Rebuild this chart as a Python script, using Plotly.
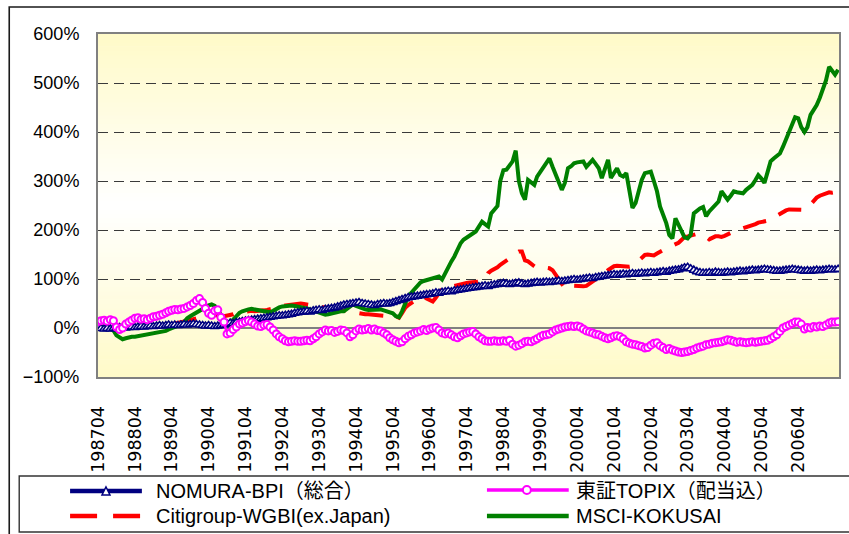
import plotly.graph_objects as go
import pandas as pd

# ---------------- data (monthly cumulative return, %) ----------------
TICK_LABELS = ["198704", "198804", "198904", "199004", "199104", "199204", "199304",
               "199404", "199504", "199604", "199704", "199804", "199904", "200004",
               "200104", "200204", "200304", "200404", "200504", "200604"]
Y_TICKS = [-100, 0, 100, 200, 300, 400, 500, 600]
Y_TICK_LABELS = ["\u2212100%", "0%", "100%", "200%", "300%", "400%", "500%", "600%"]
SERIES_NAMES = ["NOMURA-BPI（総合）", "東証TOPIX（配当込）",
                "Citigroup-WGBI(ex.Japan)", "MSCI-KOKUSAI"]

NOMURA_BPI = [
    0, -1, -2, -1, -2, -1, 0, 1, 1, 0, 1, 2,
    1, 2, 3, 2, 3, 4, 3, 4, 5, 4, 5, 6,
    5, 6, 5, 6, 7, 6, 7, 8, 7, 6, 5, 4,
    5, 4, 3, 4, 5, 6, 8, 10, 9, 11, 12, 13,
    14, 15, 16, 17, 18, 19, 20, 21, 22, 23, 24, 25,
    25, 26, 27, 28, 30, 31, 32, 33, 34, 33, 35, 36,
    37, 36, 38, 39, 40, 41, 43, 45, 47, 48, 49, 50,
    51, 52, 50, 49, 48, 47, 46, 48, 49, 50, 49, 50,
    52, 54, 56, 58, 60, 62, 63, 64, 65, 66, 67, 68,
    69, 70, 72, 71, 73, 74, 75, 74, 76, 77, 78, 79,
    80, 81, 82, 83, 84, 85, 86, 85, 87, 88, 89, 90,
    91, 90, 89, 90, 91, 92, 90, 89, 90, 91, 92, 93,
    92, 93, 94, 93, 94, 95, 96, 95, 96, 97, 98, 99,
    98, 99, 100, 101, 102, 101, 103, 104, 105, 106, 107, 108,
    109, 108, 109, 110, 109, 110, 111, 110, 111, 112, 111, 112,
    113, 112, 113, 114, 115, 114, 116, 117, 118, 119, 121, 123,
    124, 121, 118, 115, 113, 112, 112, 113, 112, 114, 113, 112,
    113, 114, 113, 114, 115, 116, 115, 116, 117, 118, 117, 118,
    119, 120, 119, 118, 117, 116, 116, 117, 118, 119, 120, 119,
    118, 117, 116, 117, 116, 117, 118, 117, 118, 119, 120, 119,
    119, 120,
]

TOPIX = [
    13, 15, 16, 14, 17, 15, 2, -3, 0, 8, 12, 16,
    20, 21, 18, 19, 17, 20, 23, 24, 26, 28, 31, 34,
    36, 38, 37, 39, 40, 43, 46, 50, 56, 60, 52, 40,
    30, 26, 35, 37, 22, 12, -12, -10, -3, 2, 8, 10,
    13, 15, 12, 8, 4, 3, 6, 7, 2, -4, -12, -18,
    -22, -26, -28, -27, -26, -27, -27, -26, -25, -26, -22, -18,
    -12, -8, -4, -6, -5, -9, -7, -4, -5, -10, -18, -14,
    -6, -2, -4, -3, -1, -4, -2, -5, -6, -10, -14, -20,
    -24, -27, -30, -28, -22, -17, -14, -10, -8, -6, -3, -5,
    -2, 0, 1, -4, -10, -12, -10, -14, -18, -20, -16, -12,
    -10, -8, -7, -12, -18, -22, -26, -27, -27, -26, -27, -27,
    -26, -27, -25, -33, -37, -35, -32, -28, -27, -28, -25, -22,
    -18, -15, -14, -12, -8, -4, -2, 0, 2, 3, 4, 3,
    4, 2, -2, -6, -8, -10, -13, -14, -17, -20, -22, -20,
    -17, -16, -18, -22, -28, -31, -33, -34, -36, -38, -41, -40,
    -35, -31, -30, -36, -40, -44, -42, -45, -47, -49, -50, -49,
    -48, -46, -44, -41, -39, -37, -34, -33, -31, -30, -29, -28,
    -26, -24, -25, -27, -29, -28, -29, -30, -29, -28, -29, -28,
    -27, -26, -25, -22, -18, -14, -7, 0, 3, 6, 9, 12,
    12, 8, -2, 1, 0, 3, 2, 4, 3, 6, 10, 12,
    12, 13,
]

CITI_WGBI = [
    0, 1, 2, 1, -1, -3, -6, -5, -3, -2, -1, 0,
    0, 1, 2, 2, 3, 4, 4, 5, 5, 6, 7, 8,
    8, 9, 10, 11, 12, 14, 16, 18, 20, 21, 22, 24,
    26, 27, 27, 26, 25, 24, 25, 25, 28, 31, 32, 33,
    33, 34, 35, 34, 34, 35, 36, 37, 38, 39, 40, 42,
    44, 46, 47, 48, 50, 51, 50, 49, 48, 47, 46, 44,
    43, 42, 41, 40, 39, 38, 37, 36, 34, 33, 32, 31,
    30, 29, 29, 28, 28, 27, 26, 25, 24, 25, 26, 27,
    27, 24, 21, 30, 41, 47, 52, 55, 58, 62, 65, 60,
    56, 54, 62, 72, 80, 85, 87, 88, 86, 88, 90, 92,
    92, 93, 94, 95, 94, 95, 100, 112, 117, 120, 124, 129,
    133, 138, 142, 146, 152, 156, 156, 138, 136, 130, 126, 122,
    121, 122, 123, 122, 118, 110, 100, 90, 82, 78, 84, 86,
    85, 86, 85, 86, 90, 95, 100, 104, 108, 112, 118, 122,
    126, 127, 126, 125, 126, 125, 126, 132, 139, 145, 149, 150,
    149, 148, 152, 156, 160, 163, 166, 168, 170, 174, 180, 186,
    187, 189, 190, 192, 190, 190, 186, 181, 184, 187, 187, 186,
    188, 190, 194, 197, 199, 201, 203, 204, 207, 210, 212, 215,
    216, 217, 219, 222, 226, 228, 232, 238, 240, 242, 242, 241,
    240, 241, 241, 245, 252, 262, 266, 270, 272, 275, 277, 276,
    278, 278,
]

MSCI_KOKUSAI = [
    0, 2, 4, 3, 0, -5, -15, -20, -23, -21, -19, -18,
    -18, -17, -15, -14, -13, -12, -11, -11, -10, -8, -6, -3,
    -1, 2, 4, 7, 12, 20, 24, 28, 31, 36, 40, 43,
    46, 48, 45, 36, 27, 18, 10, 13, 17, 24, 31, 34,
    37, 38, 39, 38, 38, 37, 35, 33, 32, 35, 39, 42,
    44, 45, 46, 46, 45, 44, 44, 42, 40, 38, 36, 34,
    31, 29, 27, 28, 30, 31, 32, 34, 34, 38, 44, 48,
    45, 42, 40, 38, 37, 37, 38, 39, 38, 36, 34, 34,
    30, 24, 22, 34, 50, 65, 72, 80, 88, 93, 96, 98,
    99, 102, 104, 105, 99, 112, 126, 136, 146, 160, 173, 180,
    184, 187, 192, 197, 207, 217, 212, 207, 234, 242, 249, 300,
    322, 323, 331, 340, 362, 300, 275, 262, 302, 296, 292, 309,
    318, 328, 336, 346, 329, 312, 296, 282, 296, 326, 330, 336,
    338, 339, 340, 329, 336, 343, 335, 326, 306, 325, 343, 306,
    315, 326, 312, 309, 316, 280, 245, 255, 280, 302, 316, 318,
    319, 300, 279, 248, 230, 214, 190, 183, 224, 210, 194, 185,
    183, 190, 234, 240, 244, 247, 228, 238, 245, 250, 258, 279,
    270, 262, 270, 279, 277, 276, 275, 282, 288, 292, 302, 312,
    305, 296, 318, 340, 346, 350, 356, 370, 385, 401, 420, 430,
    428, 410, 400, 410, 435, 445, 455, 470, 486, 505, 533, 525,
    517, 527,
]

MONTHS = pd.date_range("1987-04-01", periods=len(NOMURA_BPI), freq="MS")
TICK_DATES = [pd.Timestamp(f"{t[:4]}-{t[4:]}-01") for t in TICK_LABELS]

# ---------------- styling ----------------
FONT = "Liberation Sans, Noto Sans CJK JP, sans-serif"
NAVY, MAGENTA, RED, GREEN = "#000080", "#FF00FF", "#FF0000", "#008000"
RED_DASH = "24px,14px"

W, H = 849, 534
ML, MR, MT, MB = 98, 8, 34, 157
PW, PH = W - ML - MR, H - MT - MB


def px(x):
    return (x - ML) / PW


def py(y):
    return (H - MB - y) / PH


fig = go.Figure()

fig.add_trace(go.Scatter(x=MONTHS, y=CITI_WGBI, name=SERIES_NAMES[2], mode="lines",
                         line=dict(color=RED, width=4, dash=RED_DASH)))
fig.add_trace(go.Scatter(x=MONTHS, y=MSCI_KOKUSAI, name=SERIES_NAMES[3], mode="lines",
                         line=dict(color=GREEN, width=4)))
fig.add_trace(go.Scatter(x=MONTHS, y=NOMURA_BPI, name=SERIES_NAMES[0], mode="lines+markers",
                         line=dict(color=NAVY, width=3),
                         marker=dict(symbol="triangle-up", size=8, color="white",
                                     line=dict(color=NAVY, width=1.6))))
fig.add_trace(go.Scatter(x=MONTHS, y=TOPIX, name=SERIES_NAMES[1], mode="lines+markers",
                         line=dict(color=MAGENTA, width=2.5),
                         marker=dict(symbol="circle", size=7, color="white",
                                     line=dict(color=MAGENTA, width=2))))

shapes = []
# vertical gradient background: yellow at edges, white at the centre
NB = 80
for i in range(NB):
    c = (i + 0.5) / NB
    t = abs(c - 0.5) * 2
    b = round(255 - (255 - 200) * t)
    g = round(255 - (255 - 250) * t)
    shapes.append(dict(type="rect", xref="x domain", yref="y domain", x0=0, x1=1,
                       y0=i / NB, y1=(i + 1) / NB + 0.002, layer="below",
                       line=dict(width=0), fillcolor=f"rgb(255,{g},{b})"))

# outer chart frame and legend box
shapes.append(dict(type="rect", xref="paper", yref="paper", x0=px(9), x1=px(870),
                   y0=py(560), y1=py(7), line=dict(color="#1a1a1a", width=1.6)))
shapes.append(dict(type="rect", xref="paper", yref="paper", x0=px(19), x1=px(870),
                   y0=py(532), y1=py(476), line=dict(color="#333333", width=1.4)))

# legend samples
R1, R2 = 491, 516
shapes.append(dict(type="line", xref="paper", yref="paper", x0=px(70), x1=px(142),
                   y0=py(R1), y1=py(R1), line=dict(color=NAVY, width=4.5)))
shapes.append(dict(type="path", xref="paper", yref="paper", xsizemode="pixel",
                   ysizemode="pixel", xanchor=px(106), yanchor=py(R1),
                   path="M-4,-4 L4,-4 L0,4 Z", fillcolor="white",
                   line=dict(color=NAVY, width=1.5)))
shapes.append(dict(type="line", xref="paper", yref="paper", x0=px(70), x1=px(142),
                   y0=py(R2), y1=py(R2), line=dict(color=RED, width=4.5, dash="27px,16px")))
shapes.append(dict(type="line", xref="paper", yref="paper", x0=px(488), x1=px(570),
                   y0=py(R1 - 1), y1=py(R1 - 1), line=dict(color=MAGENTA, width=3.5)))
shapes.append(dict(type="circle", xref="paper", yref="paper", xsizemode="pixel",
                   ysizemode="pixel", xanchor=px(528), yanchor=py(R1 - 1),
                   x0=-4, x1=4, y0=-4, y1=4, fillcolor="white",
                   line=dict(color=MAGENTA, width=2)))
shapes.append(dict(type="line", xref="paper", yref="paper", x0=px(488), x1=px(570),
                   y0=py(R2), y1=py(R2), line=dict(color=GREEN, width=4.5)))

annotations = []
for name, (lx, ly) in zip(SERIES_NAMES, [(154, R1), (575, R1), (154, R2), (575, R2)]):
    annotations.append(dict(text=name, xref="paper", yref="paper", x=px(lx), y=py(ly),
                            xanchor="left", yanchor="middle", showarrow=False,
                            font=dict(family=FONT, size=20, color="black")))

fig.update_layout(
    width=W, height=H,
    margin=dict(l=ML, r=MR, t=MT, b=MB),
    paper_bgcolor="white", plot_bgcolor="white",
    showlegend=False,
    font=dict(family=FONT, color="black"),
    shapes=shapes, annotations=annotations,
    xaxis=dict(range=["1987-04-01", "2007-05-10"], tickmode="array",
               tickvals=TICK_DATES, ticktext=TICK_LABELS, tickangle=-90,
               tickfont=dict(family="DejaVu Sans", size=17.5, color="black"),
               showgrid=False, zeroline=False, ticks="",
               ticklabelstandoff=20,
               showline=True, linecolor="#808080", linewidth=2, mirror=True),
    yaxis=dict(range=[-100, 600], tickmode="array", tickvals=Y_TICKS,
               ticktext=Y_TICK_LABELS,
               tickfont=dict(family=FONT, size=18, color="black"),
               showgrid=True, gridcolor="#3a3a3a", gridwidth=1, griddash="10px,6px",
               zeroline=True, zerolinecolor="#808080", zerolinewidth=1.5,
               ticks="", ticklabelstandoff=13,
               showline=True, linecolor="#808080", linewidth=2, mirror=True),
)

fig.write_html("out.html")
